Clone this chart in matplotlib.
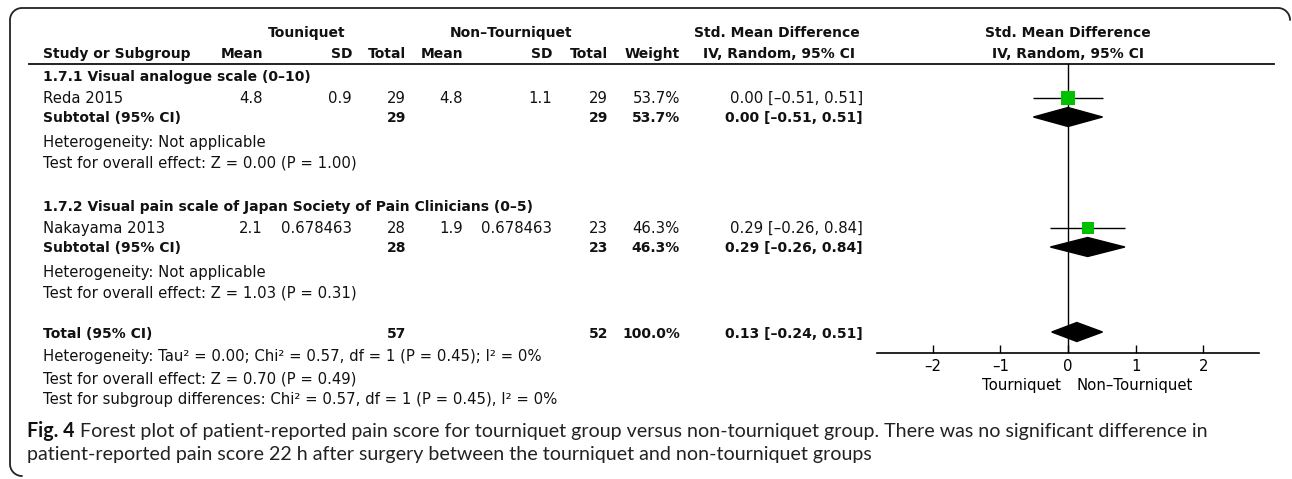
import numpy as np
import matplotlib.pyplot as plt
from matplotlib.patches import Polygon

# ---- data ----
subgroups = ['1.7.1 Visual analogue scale (0–10)',
             '1.7.2 Visual pain scale of Japan Society of Pain Clinicians (0–5)']
studies = ['Reda 2015', 'Nakayama 2013']
t_mean = [4.8, 2.1]
t_sd = [0.9, 0.678463]
t_n = [29, 28]
c_mean = [4.8, 1.9]
c_sd = [1.1, 0.678463]
c_n = [29, 23]
weights = [53.7, 46.3]
smd = [0.00, 0.29]
ci_lo = [-0.51, -0.26]
ci_hi = [0.51, 0.84]
sub_z = [0.00, 1.03]
sub_p = [1.00, 0.31]

total_t = 57
total_c = 52
total_w = 100.0
total_smd = 0.13
total_lo = -0.24
total_hi = 0.51
total_het = 'Heterogeneity: Tau² = 0.00; Chi² = 0.57, df = 1 (P = 0.45); I² = 0%'
total_test = 'Test for overall effect: Z = 0.70 (P = 0.49)'
subgroup_test = 'Test for subgroup differences: Chi² = 0.57, df = 1 (P = 0.45), I² = 0%'
xticks = [-2, -1, 0, 1, 2]

caption_bold = 'Fig. 4'
caption_1 = ('Forest plot of patient-reported pain score for tourniquet group versus '
             'non-tourniquet group. There was no significant difference in')
caption_2 = 'patient-reported pain score 22 h after surgery between the tourniquet and non-tourniquet groups'

# ---- layout (pixels) ----
W, H = 1292, 479
FONT = 'DejaVu Sans'
FS = 10.75
FSB = 10.0
cols = [263, 352, 406, 463, 552, 608, 680, 863]   # right edges of numeric columns
x_left = 43
green = '#00C000'


def fmt_ci(m, lo, hi):
    return f'{m:.2f} [{lo:.2f}, {hi:.2f}]'.replace('-', '–')


fig = plt.figure(figsize=(W / 100, H / 100), dpi=100)
bg = fig.add_axes([0, 0, 1, 1])
bg.set_xlim(0, W)
bg.set_ylim(H, 0)
bg.axis('off')


def txt(x, y, s, ha='left', bold=False):
    bg.text(x, y + 5, s, ha=ha, va='baseline', family=FONT,
            fontsize=FSB if bold else FS,
            fontweight='bold' if bold else 'normal', color='#111')


# frame with rounded corners (top edge + left edge)
r = 12
L, T, R, B = 10, 8, 1290, 476
a = np.linspace(0, np.pi / 2, 20)
tr_x = R - r + r * np.cos(a)
tr_y = T + r - r * np.sin(a)
tl_x = L + r - r * np.sin(a)
tl_y = T + r - r * np.cos(a)
bl_x = L + r - r * np.cos(a)
bl_y = B - r + r * np.sin(a)
bg.plot(np.concatenate([tr_x, tl_x, bl_x]), np.concatenate([tr_y, tl_y, bl_y]),
        color='#222', lw=1.3, solid_capstyle='round')

# header
txt(307, 32, 'Touniquet', ha='center', bold=True)
txt(511, 32, 'Non–Tourniquet', ha='center', bold=True)
txt(777, 32, 'Std. Mean Difference', ha='center', bold=True)
txt(1068, 32, 'Std. Mean Difference', ha='center', bold=True)
txt(x_left, 53, 'Study or Subgroup', bold=True)
for xr, s in zip(cols[:7], ['Mean', 'SD', 'Total', 'Mean', 'SD', 'Total', 'Weight']):
    txt(xr, 53, s, ha='right', bold=True)
txt(779, 53, 'IV, Random, 95% CI', ha='center', bold=True)
txt(1068, 53, 'IV, Random, 95% CI', ha='center', bold=True)
bg.plot([29, 1274], [64, 64], color='#111', lw=1.3)

# rows
group_top = [76, 206]
study_rows = []
sub_rows = []
for i in range(len(studies)):
    y0 = group_top[i]
    ys, ysub = y0 + 22, y0 + 41
    study_rows.append(ys)
    sub_rows.append(ysub)
    txt(x_left, y0, subgroups[i], bold=True)
    vals = [f'{t_mean[i]}', f'{t_sd[i]}', f'{t_n[i]}', f'{c_mean[i]}', f'{c_sd[i]}',
            f'{c_n[i]}', f'{weights[i]:.1f}%', fmt_ci(smd[i], ci_lo[i], ci_hi[i])]
    txt(x_left, ys, studies[i])
    for xr, s in zip(cols, vals):
        txt(xr, ys, s, ha='right')
    txt(x_left, ysub, 'Subtotal (95% CI)', bold=True)
    txt(cols[2], ysub, f'{t_n[i]}', ha='right', bold=True)
    txt(cols[5], ysub, f'{c_n[i]}', ha='right', bold=True)
    txt(cols[6], ysub, f'{weights[i]:.1f}%', ha='right', bold=True)
    txt(cols[7], ysub, fmt_ci(smd[i], ci_lo[i], ci_hi[i]), ha='right', bold=True)
    txt(x_left, y0 + 66, 'Heterogeneity: Not applicable')
    txt(x_left, y0 + 87, f'Test for overall effect: Z = {sub_z[i]:.2f} (P = {sub_p[i]:.2f})')

y_tot = 333
txt(x_left, y_tot, 'Total (95% CI)', bold=True)
txt(cols[2], y_tot, f'{total_t}', ha='right', bold=True)
txt(cols[5], y_tot, f'{total_c}', ha='right', bold=True)
txt(cols[6], y_tot, f'{total_w:.1f}%', ha='right', bold=True)
txt(cols[7], y_tot, fmt_ci(total_smd, total_lo, total_hi), ha='right', bold=True)
txt(x_left, 356, total_het)
txt(x_left, 378, total_test)
txt(x_left, 399, subgroup_test)

# ---- forest panel ----
x0_px, x1_px, top_px, axis_px = 877, 1259, 64, 353
fa = fig.add_axes([x0_px / W, (H - axis_px) / H, (x1_px - x0_px) / W, (axis_px - top_px) / H])
fa.set_xlim(-2.82, 2.82)
fa.set_ylim(axis_px, top_px)
fa.patch.set_alpha(0)
for s in ['left', 'right', 'top']:
    fa.spines[s].set_visible(False)
fa.spines['bottom'].set_linewidth(1.2)
fa.set_yticks([])
fa.set_xticks(xticks)
fa.set_xticklabels([str(t).replace('-', '–') for t in xticks], family=FONT, fontsize=FS)
fa.tick_params(axis='x', direction='in', length=6, width=1.0, pad=4.5)
fa.axvline(0, color='k', lw=1.0, zorder=1)

dh = 9.5
for i in range(len(studies)):
    fa.hlines(study_rows[i], ci_lo[i], ci_hi[i], color='k', lw=1.0, zorder=2)
    side = weights[i] * 0.26 * 0.72
    fa.scatter([smd[i]], [study_rows[i]], marker='s', s=side ** 2, color=green,
               edgecolors='none', zorder=3)
    fa.add_patch(Polygon([(ci_lo[i], sub_rows[i]), (smd[i], sub_rows[i] - dh),
                          (ci_hi[i], sub_rows[i]), (smd[i], sub_rows[i] + dh)],
                         closed=True, color='k', zorder=3))
fa.add_patch(Polygon([(total_lo, y_tot - 1), (total_smd, y_tot - 1 - dh),
                      (total_hi, y_tot - 1), (total_smd, y_tot - 1 + dh)],
                     closed=True, color='k', zorder=3))
fa.text(-0.1, 390, 'Tourniquet', ha='right', va='baseline', family=FONT, fontsize=FS,
        clip_on=False)
fa.text(0.12, 390, 'Non–Tourniquet', ha='left', va='baseline', family=FONT, fontsize=FS,
        clip_on=False)

# ---- caption ----
CAP = 'Lato'
cfs = 13.5
tb = bg.text(27, 437, caption_bold, family=CAP, fontweight='bold', fontsize=cfs,
             va='baseline', color='#111')
tr = bg.text(0, 437, caption_1, family=CAP, fontsize=cfs, va='baseline', color='#222')
t2 = bg.text(27, 460, caption_2, family=CAP, fontsize=cfs, va='baseline', color='#222')
fig.canvas.draw()
rend = fig.canvas.get_renderer()
wb = tb.get_window_extent(rend).width
wr = tr.get_window_extent(rend).width
scale = (1207 - 27) / (wb + wr + 5)
cfs *= scale
for t in (tb, tr, t2):
    t.set_fontsize(cfs)
fig.canvas.draw()
wb = tb.get_window_extent(rend).width
tr.set_x(27 + wb + 5)

fig.savefig('out.png', dpi=100)
